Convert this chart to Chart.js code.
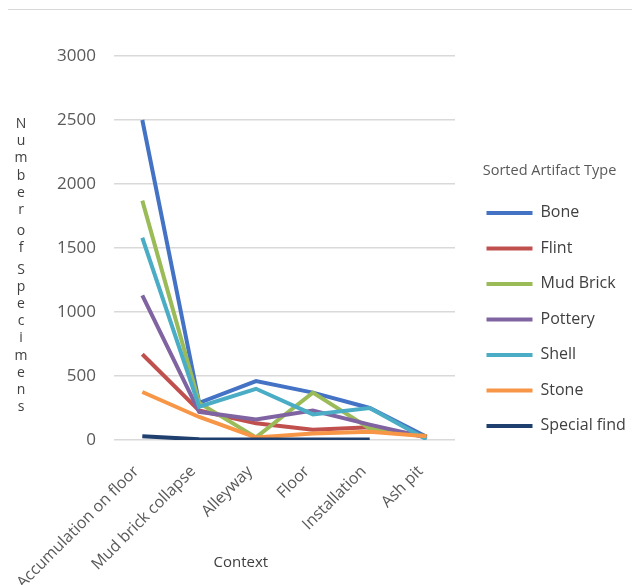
<!DOCTYPE html>
<html>
<head>
<meta charset="utf-8">
<script src="https://cdn.jsdelivr.net/npm/chart.js@4"></script>
<style>
  body { margin: 0; background: #fff; }
  #wrap { position: relative; width: 632px; height: 585px; }
  #topline { position: absolute; left: 8px; right: 0; top: 9px; border-top: 1px solid #d8d8d8; }
</style>
</head>
<body>
<div id="wrap">
  <div id="topline"></div>
  <canvas id="chart"></canvas>
</div>
<script>
const contexts = ["Accumulation on floor", "Mud brick collapse", "Alleyway", "Floor", "Installation", "Ash pit"];
const yTicks = [0, 500, 1000, 1500, 2000, 2500, 3000];

const bone = [2500, 290, 460, 370, 250, 25];
const flint = [670, 230, 130, 80, 100, 30];
const mudBrick = [1870, 290, 20, 370, 90, 30];
const pottery = [1130, 220, 160, 230, 120, 20];
const shell = [1580, 260, 400, 200, 250, 5];
const stone = [375, 180, 20, 50, 65, 30];
const specialFind = [30, 5, 3, 3, 3, null];

const series = [
  { label: "Bone", data: bone, color: "#4472C4" },
  { label: "Flint", data: flint, color: "#C0504D" },
  { label: "Mud Brick", data: mudBrick, color: "#9BBB59" },
  { label: "Pottery", data: pottery, color: "#8064A2" },
  { label: "Shell", data: shell, color: "#4BACC6" },
  { label: "Stone", data: stone, color: "#F79646" },
  { label: "Special find", data: specialFind, color: "#1F3F6E" },
];

const yTitle = "Number of Specimens";
const xTitle = "Context";
const font = "'Open Sans', sans-serif";

// stacked y title and x title drawn by hand, like the Excel original
const titlesPlugin = {
  id: "titles",
  afterDraw(chart) {
    const { ctx, chartArea } = chart;
    ctx.save();
    ctx.fillStyle = "#404040";
    ctx.font = "14px " + font;
    ctx.textAlign = "center";
    ctx.textBaseline = "middle";
    let y = chartArea.top + 68;
    for (const ch of yTitle) {
      if (ch === " ") { y += 4; continue; }
      ctx.fillText(ch, 21, y);
      y += 17.2;
    }
    ctx.font = "15px " + font;
    ctx.fillText(xTitle, chartArea.left + 127, chart.height - 22);
    ctx.restore();
  }
};

new Chart(document.getElementById("chart"), {
  type: "line",
  data: {
    labels: contexts,
    datasets: series.map((s, i) => ({
      label: s.label,
      data: s.data,
      borderColor: s.color,
      backgroundColor: s.color,
      borderWidth: 4,
      pointRadius: 0,
      tension: 0,
      spanGaps: false,
      order: series.length - i,
    })),
  },
  options: {
    responsive: true,
    maintainAspectRatio: false,
    animation: false,
    layout: { padding: { left: 39, top: 56, right: 0, bottom: 0 } },
    scales: {
      x: {
        offset: true,
        grid: { display: false },
        border: { display: false },
        afterFit(axis) { axis.height = 145; },
        ticks: {
          color: "#595959",
          font: { family: font, size: 16 },
          minRotation: 45,
          maxRotation: 45,
          padding: 14,
          labelOffset: -6,
        },
      },
      y: {
        min: 0,
        max: 3000,
        afterBuildTicks(axis) { axis.ticks = yTicks.map(v => ({ value: v })); },
        grid: { color: "#d9d9d9", lineWidth: 1.5, drawTicks: false },
        border: { display: false },
        ticks: {
          color: "#595959",
          font: { family: font, size: 17 },
          padding: 18,
          callback: (v) => String(v),
        },
      },
      // empty spacer between plot and legend
      gap: {
        type: "linear",
        position: "right",
        display: true,
        grid: { display: false },
        border: { display: false },
        ticks: { display: false },
        afterFit(axis) { axis.width = 12; },
      },
    },
    plugins: {
      tooltip: { enabled: false },
      legend: {
        position: "right",
        align: "start",
        maxWidth: 165,
        title: {
          display: true,
          text: "Sorted Artifact Type",
          position: "center",
          color: "#595959",
          font: { family: font, size: 14.5 },
          padding: { top: 108, bottom: 4 },
        },
        labels: {
          boxWidth: 46,
          boxHeight: 4,
          color: "#404040",
          font: { family: font, size: 16 },
          padding: 19.5,
          sort: (a, b) => a.datasetIndex - b.datasetIndex,
          generateLabels(chart) {
            const items = Chart.defaults.plugins.legend.labels.generateLabels(chart);
            items.forEach(it => { it.lineWidth = 0; });
            return items;
          },
        },
      },
    },
  },
  plugins: [titlesPlugin],
});
</script>
</body>
</html>
